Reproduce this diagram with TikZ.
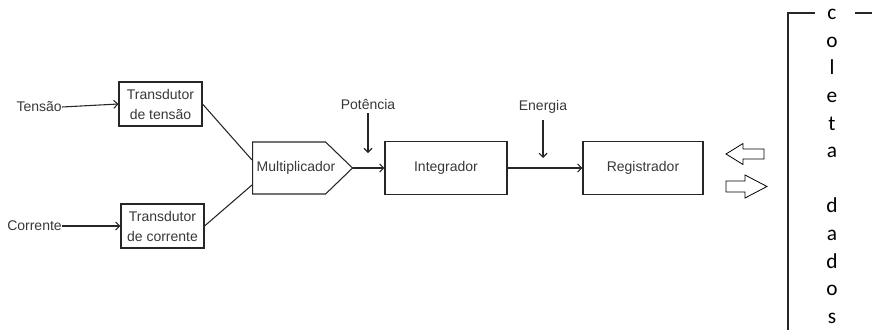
\documentclass[tikz,border=0pt]{standalone}
\usepackage{fontspec}
\setmainfont{Liberation Sans}
\newfontfamily\calibrifont{Carlito}
\usetikzlibrary{shapes.symbols,arrows.meta,calc}
\begin{document}
\begin{tikzpicture}[x=0.75pt,y=-0.75pt,
  every node/.style={font=\fontsize{10.5}{15}\selectfont, text=black!78, inner sep=0pt},
  blk/.style={draw=black!85, line width=0.8pt, align=center},
  conn/.style={draw=black!85, line width=0.8pt},
  arr/.style={conn, -{Straight Barb[length=3pt,width=6pt]}},
  hollow/.style={draw=black, line width=0.6pt, fill=white}]
\useasboundingbox (0,0) rectangle (872,329);
% inputs
\node[anchor=east] (tin) at (62,107) {Tensão};
\node[anchor=east] (cin) at (62,226) {Corrente};
\node[blk, minimum width=83*0.75pt, minimum height=44*0.75pt] (tt) at (160.5,104) {Transdutor\\de tensão};
\node[blk, minimum width=83*0.75pt, minimum height=44*0.75pt] (tc) at (162.5,226) {Transdutor\\de corrente};
\draw[arr] (tin.east) -- (tt.west);
\draw[arr] (cin.east) -- (tc.west);
% multiplicador
\node[blk, signal, signal to=east, signal pointer angle=88, minimum width=100*0.75pt, minimum height=52*0.75pt, anchor=west] (mult) at (252,168) {};
\node (multtxt) at (296,168) {Multiplicador};
\draw[conn] (tt.east) -- ($(mult.west)+(0,-8)$);
\draw[conn] (tc.east) -- ($(mult.west)+(0,17)$);
% integrador and registrador
\node[blk, minimum width=122*0.75pt, minimum height=53*0.75pt] (integ) at (446,168) {Integrador};
\node[blk, minimum width=120*0.75pt, minimum height=53*0.75pt] (reg) at (643,168) {Registrador};
\draw[arr] (mult.east) -- (integ.west);
\draw[arr] (integ.east) -- (reg.west);
% labels
\node (pot) at (368,104) {Potência};
\coordinate (pa) at (368,153);
\draw[arr] ($(pot.south)+(0,4)$) -- (pa);
\node (ene) at (543,107) {Energia};
\coordinate (ea) at (543,158);
\draw[arr] ($(ene.south)+(0,6)$) -- (ea);
% hollow arrows
\draw[hollow] (764,149) -- (743,149) -- (743,143.5) -- (726,154) -- (743,164.5) -- (743,159) -- (764,159) -- cycle;
\draw[hollow] (726,181) -- (745,181) -- (745,175) -- (767,186.5) -- (745,198) -- (745,192) -- (726,192) -- cycle;
% coleta dados
\draw[black!85, line width=0.9pt] (815,13) -- (788,13) -- (788,330);
\draw[black!85, line width=0.9pt] (855,13) -- (873,13);
\node[anchor=north, align=center, text=black, font=\calibrifont\fontsize{16}{20.7}\selectfont] (col) at (832,9) {c\\o\\l\\e\\t\\a\\\strut\\d\\a\\d\\o\\s};
\end{tikzpicture}
\end{document}
